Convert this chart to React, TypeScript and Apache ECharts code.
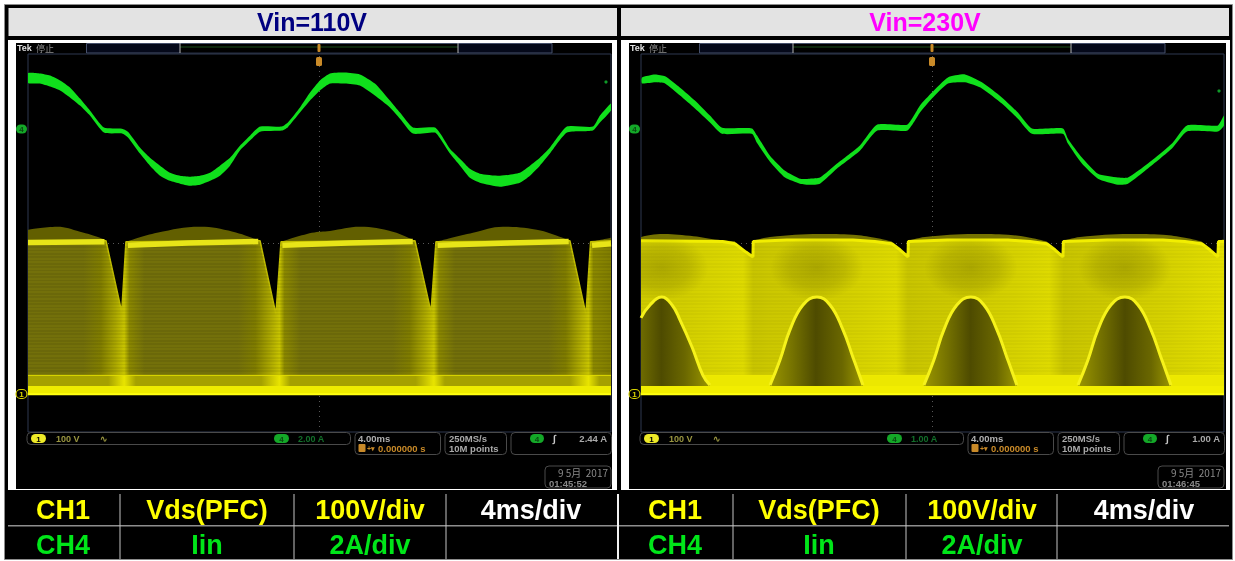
import React, { useEffect, useRef } from "react";
import * as echarts from "echarts";

// time axis: ms (4 ms/div, 10 divisions)
// each record: [ms, lower envelope, upper envelope] in amperes
const IIN_110: number[][] = [
  [0,2.46,2.99],[0.82,2.44,2.97],[1.51,2.28,2.86],[2.2,2.07,2.6],[2.88,1.7,2.23],[3.57,1.27,1.64],[4.25,0.74,1.01],
  [5.21,-0.16,0.11],[6.45,-0.21,0.05],[6.86,-0.42,-0.11],[7.68,-1.27,-0.95],[8.37,-1.91,-1.49],[9.06,-2.44,-1.91],
  [9.74,-2.71,-2.28],[10.43,-2.86,-2.44],[11.11,-2.97,-2.49],[11.8,-2.92,-2.44],[12.49,-2.71,-2.28],[13.17,-2.44,-1.91],
  [13.86,-1.91,-1.49],[14.54,-1.11,-0.85],[15.23,-0.58,-0.32],[15.92,-0.11,0.16],[17.42,-0.05,0.16],[17.83,0.13,0.37],
  [18.66,0.9,1.17],[19.35,1.54,1.96],[20.03,2.07,2.6],[20.72,2.44,2.97],[21.75,2.44,3.02],[22.77,2.33,2.92],[23.8,1.8,2.44],
  [24.83,1.17,1.54],[25.52,0.58,0.9],[26.41,-0.21,0.11],[27.92,-0.16,0.11],[28.3,-0.5,-0.22],[28.95,-1.27,-1.01],
  [29.64,-1.91,-1.54],[30.32,-2.55,-2.07],[31.0,-2.81,-2.33],[32.38,-3.02,-2.44],[33.75,-2.81,-2.28],[34.44,-2.44,-1.91],
  [35.12,-1.91,-1.49],[35.81,-1.27,-0.95],[36.98,-0.16,0.16],[38.76,-0.05,0.16],[39.24,0.37,0.74],[40,1.01,1.38],
];
const IIN_230: number[][] = [
  [0.07,1.22,1.38],[0.96,1.25,1.46],[1.65,1.22,1.41],[2.68,0.9,1.11],[3.7,0.56,0.77],[4.73,0.19,0.37],[5.56,-0.11,0.05],
  [7.61,-0.11,0.03],[7.95,-0.35,-0.15],[8.85,-0.85,-0.69],[9.88,-1.27,-1.09],[10.91,-1.43,-1.3],[11.59,-1.46,-1.3],
  [12.28,-1.43,-1.27],[13.45,-1.03,-0.9],[15.02,-0.56,-0.42],[16.19,-0.03,0.13],[18.25,-0.03,0.13],[18.8,0.24,0.42],
  [19.14,0.45,0.64],[19.96,0.82,0.98],[21.06,1.22,1.38],[22.23,1.25,1.46],[23.39,1.09,1.25],[24.76,0.69,0.85],
  [25.86,0.29,0.45],[26.82,-0.11,0.03],[28.95,-0.11,0.03],[29.29,-0.37,-0.24],[30.25,-0.9,-0.74],[31.35,-1.3,-1.17],
  [32.72,-1.46,-1.27],[33.41,-1.43,-1.27],[34.78,-1.03,-0.9],[36.43,-0.5,-0.37],[37.46,-0.05,0.11],[39.58,-0.05,0.11],[40,0.11,0.37],
];

// Vds, volts: [ms, V]
const VDS_110_PEAK: (number | null)[][] = [
  [0,435],[1.99,443],[3.57,430],[4.94,414],[5.35,406],[6,null],[6.72,403],[8.85,427],[11.8,443],[14.06,430],
  [15.92,406],[16.5,null],[17.36,403],[19.48,427],[20.72,432],[22.77,443],[25.03,430],[26.55,406],[27.2,null],[27.99,403],
  [30.53,427],[32.59,443],[34.9,435],[36.68,414],[37.18,406],[37.8,null],[38.6,403],[40,414],
];
const VDS_110_MAIN: number[][] = [
  [0,406],[5.35,406],[6.43,218],[6.72,403],[15.92,406],[17.01,212],[17.36,403],[26.55,406],[27.65,218],[27.99,403],
  [37.18,406],[38.28,212],[38.6,403],[40,406],
];
const VDS_110_CREST: (number | null)[][] = [
  [0,401],[5.25,403],[5.3,null],[6.8,null],[6.85,394],[11,400],[15.8,404],[15.85,null],[17.4,null],[17.45,394],[22,400],
  [26.4,404],[26.45,null],[28.05,null],[28.1,394],[33,400],[37.1,404],[37.15,null],[38.65,null],[38.7,394],[40,398],
];
const VDS_230_PEAK: (number | null)[][] = [
  [0,416],[1.3,424],[3.36,419],[5.08,409],[6.45,404],[7,null],[7.7,406],[8.85,416],[12.28,424],[14.54,422],
  [16.05,414],[17.22,404],[17.8,null],[18.34,406],[19.48,416],[22.91,424],[25.18,422],[26.69,414],[27.85,404],
  [28.4,null],[28.98,406],[30.12,416],[33.55,424],[35.81,422],[37.32,414],[38.48,404],[39,null],[39.62,406],[40,409],
];
const VDS_230_MAIN: number[][] = [
  [0,406],[5.6,404],[6.45,398],[7.2,376],[7.68,363],[7.7,404],[10,408],[14.54,408],[16.05,404],[17.22,398],[17.77,382],[18.32,363],
  [18.34,404],[21,408],[25.18,408],[26.69,404],[27.85,398],[28.4,382],[28.95,363],[28.98,404],[32,408],[35.81,408],[37.32,404],
  [38.48,398],[39.03,382],[39.58,363],[39.62,404],[40,404],
];
const VDS_230_BELLS: (number | null)[][] = [
  [0,202],[0.62,236],[1.42,257],[2.13,236],[2.68,196],[3.5,125],[4.25,50],[4.73,24],[6,null],
  [8.85,24],[9.53,90],[10.22,170],[11.11,236],[12.07,257],[12.97,236],[13.86,170],[14.54,98],[15.23,24],[17,null],
  [19.41,24],[20.09,90],[20.78,170],[21.67,236],[22.63,257],[23.53,236],[24.42,170],[25.1,98],[25.79,24],[28,null],
  [29.98,24],[30.66,90],[31.35,170],[32.24,236],[33.2,257],[34.1,236],[34.99,170],[35.67,98],[36.36,24],
];
// darker persistence patches above each bell: [ms, V]
const VDS_230_PATCHES = [[1.42,334],[12.07,334],[22.63,334],[33.2,334]];
const LOW_BAND_TOP = [[0,50],[40,50]];
const BASE_BAND_TOP = [[0,22],[40,22]];
const SCAN_TOP = [[0,396],[40,396]];
const GROUND = [[0,0],[40,0]];

// horizontal shading of the persistence display: [ms, colour]
const SHADE_110: [number, string][] = [
  [0,"#73700a"],[3.8,"#73700a"],[5,"#807d00"],[6,"#aaa600"],[6.6,"#c8c400"],[6.95,"#8b8800"],[8,"#73700a"],[14.4,"#73700a"],
  [15.6,"#807d00"],[16.6,"#aaa600"],[17.25,"#c8c400"],[17.6,"#8b8800"],[18.7,"#73700a"],[25,"#73700a"],[26.2,"#807d00"],
  [27.2,"#aaa600"],[27.85,"#c8c400"],[28.2,"#8b8800"],[29.3,"#73700a"],[35.7,"#73700a"],[36.9,"#807d00"],[37.8,"#aaa600"],
  [38.45,"#c8c400"],[38.8,"#8b8800"],[40,"#807d00"],
];
const SHADE_110_LOW: [number, string][] = [
  [0,"#a5a100"],[5.5,"#a5a100"],[6.6,"#e8e400"],[7.4,"#a5a100"],[16,"#a5a100"],[17.25,"#e8e400"],[18,"#a5a100"],[26.6,"#a5a100"],
  [27.85,"#e8e400"],[28.6,"#a5a100"],[37.2,"#a5a100"],[38.45,"#e8e400"],[39.2,"#a5a100"],[40,"#a5a100"],
];
const SHADE_230: [number, string][] = [
  [0,"#cfcb00"],[3,"#d2ce00"],[5,"#d8d400"],[7,"#dedA00"],[7.7,"#c8c400"],[9,"#ccc800"],[12,"#cfcb00"],[15,"#d6d200"],[17.5,"#dedA00"],
  [18.3,"#c8c400"],[20,"#ccc800"],[22.6,"#cfcb00"],[25.6,"#d6d200"],[28,"#dedA00"],[29,"#c8c400"],[30.6,"#ccc800"],[33.2,"#cfcb00"],
  [36.2,"#d6d200"],[38.6,"#dedA00"],[40,"#e2de00"],
];
const SHADE_230_BELL: [number, string][] = [
  [0,"#6e6b00"],[1.4,"#4e4b00"],[3,"#6a6700"],[4.7,"#9a9600"],[8.8,"#9a9600"],[10.2,"#7a7700"],[12,"#4e4b00"],[13.8,"#6a6700"],[15.2,"#9a9600"],
  [19.4,"#9a9600"],[20.8,"#7a7700"],[22.6,"#4e4b00"],[24.4,"#6a6700"],[25.8,"#9a9600"],[30,"#9a9600"],[31.3,"#7a7700"],[33.2,"#4e4b00"],
  [35,"#6a6700"],[36.36,"#9a9600"],
];

const PANEL_TITLES = ["Vin=110V", "Vin=230V"];
const TITLE_COLORS = ["#000080", "#ff00ff"];
const TIME_SCALE = "4.00ms";
const TIME_OFFSET = "0.000000 s";
const SAMPLE_RATE = ["250MS/s", "10M points"];
const CH1_SCALE = "100 V";
const CH4_SCALES = ["2.00 A", "1.00 A"];
const TRIGGER_LEVELS = ["2.44 A", "1.00 A"];
const DATE_TEXT = "9 5月  2017";
const CLOCKS = ["01:45:52", "01:46:45"];
const ROW_CH1 = ["CH1", "Vds(PFC)", "100V/div", "4ms/div"];
const ROW_CH4 = ["CH4", "Iin", "2A/div", ""];
const COL_CENTERS = [[63, 207, 370, 531], [675, 819, 982, 1144]];
const COL_DIVIDERS = [120, 294, 446, 618, 733, 906, 1057];

const FONT = '"Liberation Sans", Arial, sans-serif';
const GREEN = "#10e01c";
const YELLOW = "#ffff00";

function shade(stops: [number, string][]) {
  return new echarts.graphic.LinearGradient(0, 0, 1, 0, stops.map(([t, color]) => ({ offset: t / 40, color })));
}
function shadeSpan(stops: [number, string][], span: number) {
  return new echarts.graphic.LinearGradient(0, 0, 1, 0, stops.map(([t, color]) => ({ offset: Math.min(t / span, 1), color })));
}
function scanLines(alpha: number, count: number) {
  const stops: any[] = [];
  for (let k = 0; k < count; k++) {
    stops.push({ offset: k / count, color: "rgba(0,0,0,0)" });
    stops.push({ offset: (k + 0.5) / count, color: "rgba(0,0,0,0)" });
    stops.push({ offset: (k + 0.5) / count, color: `rgba(0,0,0,${alpha})` });
    stops.push({ offset: (k + 1) / count, color: `rgba(0,0,0,${alpha})` });
  }
  return new echarts.graphic.LinearGradient(0, 0, 0, 1, stops);
}

function vdsSeries(i: number, parts: any) {
  const ax = { xAxisIndex: i, yAxisIndex: i * 2 };
  const line = { type: "line", ...ax, symbol: "none", silent: true };
  const out: any[] = [
    {
      ...line, name: "graticule", data: [], markLine: {
        silent: true, symbol: "none", label: { show: false }, animation: false,
        lineStyle: { color: "#585858", width: 1, type: [1, 4] },
        data: [{ xAxis: 20 }, { yAxis: 400 }],
      },
    },
    { ...line, name: "peak", data: parts.peak, smooth: 0.4, connectNulls: false, lineStyle: { width: 0 }, areaStyle: { color: parts.peakColor, opacity: 1, origin: 0 } },
    { ...line, name: "Vds", data: parts.main, lineStyle: { width: parts.edgeWidth, color: parts.edge }, areaStyle: { color: parts.fill, opacity: 1, origin: 0 } },
    { ...line, name: "scan", data: SCAN_TOP, lineStyle: { width: 0 }, areaStyle: { color: scanLines(parts.scan, 39), opacity: 1, origin: 50 } },
  ];
  if (parts.patches) {
    out.push({
      type: "custom", ...ax, name: "patch", silent: true, clip: true, data: parts.patches,
      encode: { x: 0, y: 1 },
      renderItem: (_p: any, api: any) => {
        const c = api.coord([api.value(0), api.value(1)]);
        const size = api.size([3.2, 85]);
        return {
          type: "ellipse",
          shape: { cx: c[0], cy: c[1], rx: size[0], ry: size[1] },
          style: {
            fill: new echarts.graphic.RadialGradient(0.5, 0.5, 0.5, [
              { offset: 0, color: "rgba(70,66,0,0.26)" },
              { offset: 0.6, color: "rgba(70,66,0,0.15)" },
              { offset: 1, color: "rgba(70,66,0,0)" },
            ]),
          },
        };
      },
    });
  }
  out.push({ ...line, name: "low band", data: LOW_BAND_TOP, lineStyle: { width: 1, color: parts.lowLine }, areaStyle: { color: parts.lowFill, opacity: 1, origin: 0 } });
  if (parts.bells) {
    out.push({ ...line, name: "bell", data: parts.bells, smooth: 0.45, connectNulls: false, lineStyle: { width: 3, color: "#f6f21a" }, areaStyle: { color: parts.bellFill, opacity: 1, origin: 22 } });
  }
  if (parts.crest) {
    out.push({ ...line, name: "crest", data: parts.crest, connectNulls: false, lineStyle: { width: 5.5, color: "#e8e518", cap: "butt" } });
  }
  out.push(
    { ...line, name: "base band", data: BASE_BAND_TOP, lineStyle: { width: 0 }, areaStyle: { color: parts.baseFill, opacity: 1, origin: 0 } },
    { ...line, name: "ground", data: GROUND, lineStyle: { width: 2, color: "#ffff10" } },
  );
  return out;
}

function iinSeries(i: number, rows: number[][]) {
  const ax = { xAxisIndex: i, yAxisIndex: i * 2 + 1 };
  return [
    {
      type: "custom", ...ax, name: "Iin band", silent: true, clip: true, data: [[0, 0]],
      renderItem: (_p: any, api: any) => ({
        type: "polygon",
        shape: {
          smooth: 0.18,
          points: [
            ...rows.map((r) => api.coord([r[0], r[2]])),
            ...rows.slice().reverse().map((r) => api.coord([r[0], r[1]])),
          ],
        },
        style: { fill: GREEN },
      }),
    },
  ];
}

function label(text: string, x: number, y: number, fill: string, size = 9.5, align = "left", weight: any = "bold", z = 30) {
  return { type: "text", z, silent: true, style: { text, x, y, fill, font: `${weight} ${size}px ${FONT}`, textAlign: align, textVerticalAlign: "middle" } };
}
function box(x: number, y: number, w: number, h: number, fill: string, stroke = "none", r = 0, z = 1, lineWidth = 1) {
  return { type: "rect", z, silent: true, shape: { x, y, width: w, height: h, r }, style: { fill, stroke, lineWidth } };
}
function stroke(x1: number, y1: number, x2: number, y2: number, color: string, lineWidth = 1, z = 3) {
  return { type: "line", z, silent: true, shape: { x1, y1, x2, y2 }, style: { stroke: color, lineWidth } };
}
function pill(x: number, y: number, w: number, h: number, fill: string, text: string, textColor = "#000", outline = "none") {
  return [box(x, y, w, h, fill, outline, h / 2, 29, outline === "none" ? 1 : 1.2), label(text, x + w / 2, y + h / 2 + 0.5, textColor, 8, "center")];
}

function scopeDecor(i: number, dx: number) {
  const amber = "#c98a28";
  const grey = "#a9a9a9";
  const edge = "#4a4a4a";
  return [
    box(8 + dx, 40, 609, 450, "#ffffff", "none", 0, 1),
    box(16 + dx, 43, i ? 597 : 596, 446, "#000000", "none", 0, 2),
    // top strip
    box(86.5 + dx, 43.5, 465.5, 9.5, "#05091a", "#46506b", 0, 3),
    box(180 + dx, 44, 278, 8.5, "#000000", "none", 0, 3),
    stroke(180 + dx, 47, 458 + dx, 47, "#1b4d1b", 1, 4),
    stroke(180 + dx, 43, 180 + dx, 53, "#b5b5b5", 1, 4),
    stroke(458 + dx, 43, 458 + dx, 53, "#b5b5b5", 1, 4),
    label("Tek", 17 + dx, 48, "#e2e2e2", 9),
    { type: "text", z: 30, silent: true, style: { text: "停止", x: 36 + dx, y: 48, fill: "#8f8f8f", font: `9px "Noto Sans CJK SC"`, textVerticalAlign: "middle" } },
    // trigger marker
    box(317.5 + dx, 44, 3, 8, amber, "none", 1, 6),
    box(316 + dx, 57, 6, 9, amber, "none", 1.5, 6),
    // channel markers
    ...pill(16 + dx, 124.5, 11, 9, "#14a828", "4", "#0a4a12"),
    ...pill(16 + dx, 389.5, 11, 9, "#000000", "1", "#d8d400", "#d8d400"),
    { type: "circle", z: 29, silent: true, shape: { cx: 606 + dx, cy: i ? 91 : 82, r: 1.6 }, style: { fill: "#0f9a28" } },
    // status strip
    box(27 + dx, 432.5, 323.5, 12, "#000", edge, 4, 5),
    ...pill(31 + dx, 434, 15, 9, "#eeea28", "1", "#000"),
    label(CH1_SCALE, 56 + dx, 438.5, "#9a9640", 9),
    label("∿", 100 + dx, 438.5, "#9a9640", 9),
    ...pill(274 + dx, 434, 15, 9, "#14a828", "4", "#0a4a12"),
    label(CH4_SCALES[i], 298 + dx, 438.5, "#12702a", 9),
    box(355 + dx, 432.5, 85.5, 22, "#000", edge, 4, 5),
    label(TIME_SCALE, 358 + dx, 438.5, "#b0b0b0", 9.5),
    box(358.5 + dx, 444, 7, 8, amber, "none", 1, 29),
    label("+▾", 367 + dx, 448.5, amber, 7),
    label(TIME_OFFSET, 378 + dx, 448.5, amber, 9.5),
    box(445 + dx, 432.5, 61.5, 22, "#000", edge, 4, 5),
    label(SAMPLE_RATE[0], 449 + dx, 438.5, grey, 9.5),
    label(SAMPLE_RATE[1], 449 + dx, 448.5, grey, 9.5),
    box(511 + dx, 432.5, 100.5, 22, "#000", edge, 4, 5),
    ...pill(530 + dx, 434, 14, 9, "#14a828", "4", "#0a4a12"),
    label("∫", 553 + dx, 438.5, "#c8c8c8", 10),
    label(TRIGGER_LEVELS[i], 607 + dx, 438.5, grey, 9.5, "right"),
    box(545 + dx, 466, 66, 22, "#000", edge, 4, 5),
    { type: "text", z: 30, silent: true, style: { text: DATE_TEXT, x: 608 + dx, y: 472, fill: "#8a8a8a", font: `10px "Noto Sans CJK SC"`, textAlign: "right", textVerticalAlign: "middle" } },
    label(CLOCKS[i], 549 + dx, 483, "#8a8a8a", 9.5),
  ];
}

function tableDecor() {
  const out: any[] = [];
  COL_DIVIDERS.forEach((x) => out.push(stroke(x, 494, x, 559, x === 618 ? "#f2f2f2" : "#c4c4c4", x === 618 ? 2 : 1, 6)));
  out.push(stroke(8, 525.7, 1229, 525.7, "#8e8e8e", 1.5, 5));
  COL_CENTERS.forEach((centers) => {
    centers.forEach((cx, c) => {
      out.push(label(ROW_CH1[c], cx, 509.5, c === 3 ? "#ffffff" : YELLOW, 27, "center"));
      if (ROW_CH4[c]) out.push(label(ROW_CH4[c], cx, 544.5, "#00e619", 27, "center"));
    });
  });
  return out;
}

function axes(i: number) {
  return {
    x: {
      type: "value", gridIndex: i, min: 0, max: 40, interval: 4,
      axisLine: { show: false }, axisTick: { show: false }, axisLabel: { show: false },
      splitLine: { show: true, lineStyle: { color: "#3a3a3a", width: 1, type: [1, 5] } },
    },
    yV: {
      type: "value", gridIndex: i, min: -100, max: 900, interval: 100,
      axisLine: { show: false }, axisTick: { show: false }, axisLabel: { show: false },
      splitLine: { show: true, lineStyle: { color: "#3a3a3a", width: 1, type: [1, 5] } },
    },
    yA: {
      type: "value", gridIndex: i, min: i ? -8 : -16, max: i ? 2 : 4, interval: i ? 1 : 2, position: "right",
      axisLine: { show: false }, axisTick: { show: false }, axisLabel: { show: false }, splitLine: { show: false },
    },
  };
}

export default function App() {
  const ref = useRef<HTMLDivElement>(null);
  useEffect(() => {
    const chart = echarts.init(ref.current!, undefined, { renderer: "svg" });
    const a0 = axes(0);
    const a1 = axes(1);
    const series = [
      ...vdsSeries(0, {
        peak: VDS_110_PEAK, peakColor: "#625f00", main: VDS_110_MAIN, edge: "#c2be00", edgeWidth: 1.5, fill: shade(SHADE_110),
        crest: VDS_110_CREST, lowLine: "#e6e200", lowFill: shade(SHADE_110_LOW), baseFill: "#eeec00", scan: 0.07,
      }),
      ...iinSeries(0, IIN_110),
      ...vdsSeries(1, {
        peak: VDS_230_PEAK, peakColor: "#757200", main: VDS_230_MAIN, edge: "#f2ee00", edgeWidth: 3, fill: shade(SHADE_230),
        patches: VDS_230_PATCHES, bells: VDS_230_BELLS, bellFill: shadeSpan(SHADE_230_BELL, 36.36), lowLine: "#f0ec00", lowFill: "#ece800", baseFill: "#f2ee00", scan: 0.03,
      }),
      ...iinSeries(1, IIN_230),
    ].map((s, k) => ({ ...s, z: 7 + k * 0.4 }));
    chart.setOption({
      animation: false,
      backgroundColor: "#ffffff",
      title: PANEL_TITLES.map((text, i) => ({
        text, left: i ? 925 : 312, top: 8, padding: 0, textAlign: "center", z: 30,
        textStyle: { color: TITLE_COLORS[i], fontFamily: FONT, fontWeight: "bold", fontSize: 25, lineHeight: 28 },
      })),
      grid: [
        { left: 28, top: 54, width: 583, height: 378, show: true, borderColor: "#2e3850", borderWidth: 1, z: 5 },
        { left: 641, top: 54, width: 583, height: 378, show: true, borderColor: "#2e3850", borderWidth: 1, z: 5 },
      ],
      xAxis: [a0.x, a1.x],
      yAxis: [a0.yV, a0.yA, a1.yV, a1.yA],
      graphic: {
        elements: [
          { type: "rect", z: 0, silent: true, shape: { x: 4.5, y: 4.5, width: 1228, height: 555 }, style: { fill: "#000", stroke: "#8c8c8c", lineWidth: 1 } },
          box(8.5, 8, 608.5, 28, "#e3e3e3", "none", 0, 1),
          box(621, 8, 608, 28, "#e3e3e3", "none", 0, 1),
          ...scopeDecor(0, 0),
          ...scopeDecor(1, 613),
          ...tableDecor(),
        ],
      },
      series,
    });
    return () => chart.dispose();
  }, []);
  return <div ref={ref} style={{ position: "fixed", left: 0, top: 0, width: 1235, height: 561, filter: "blur(0.45px)" }} />;
}
